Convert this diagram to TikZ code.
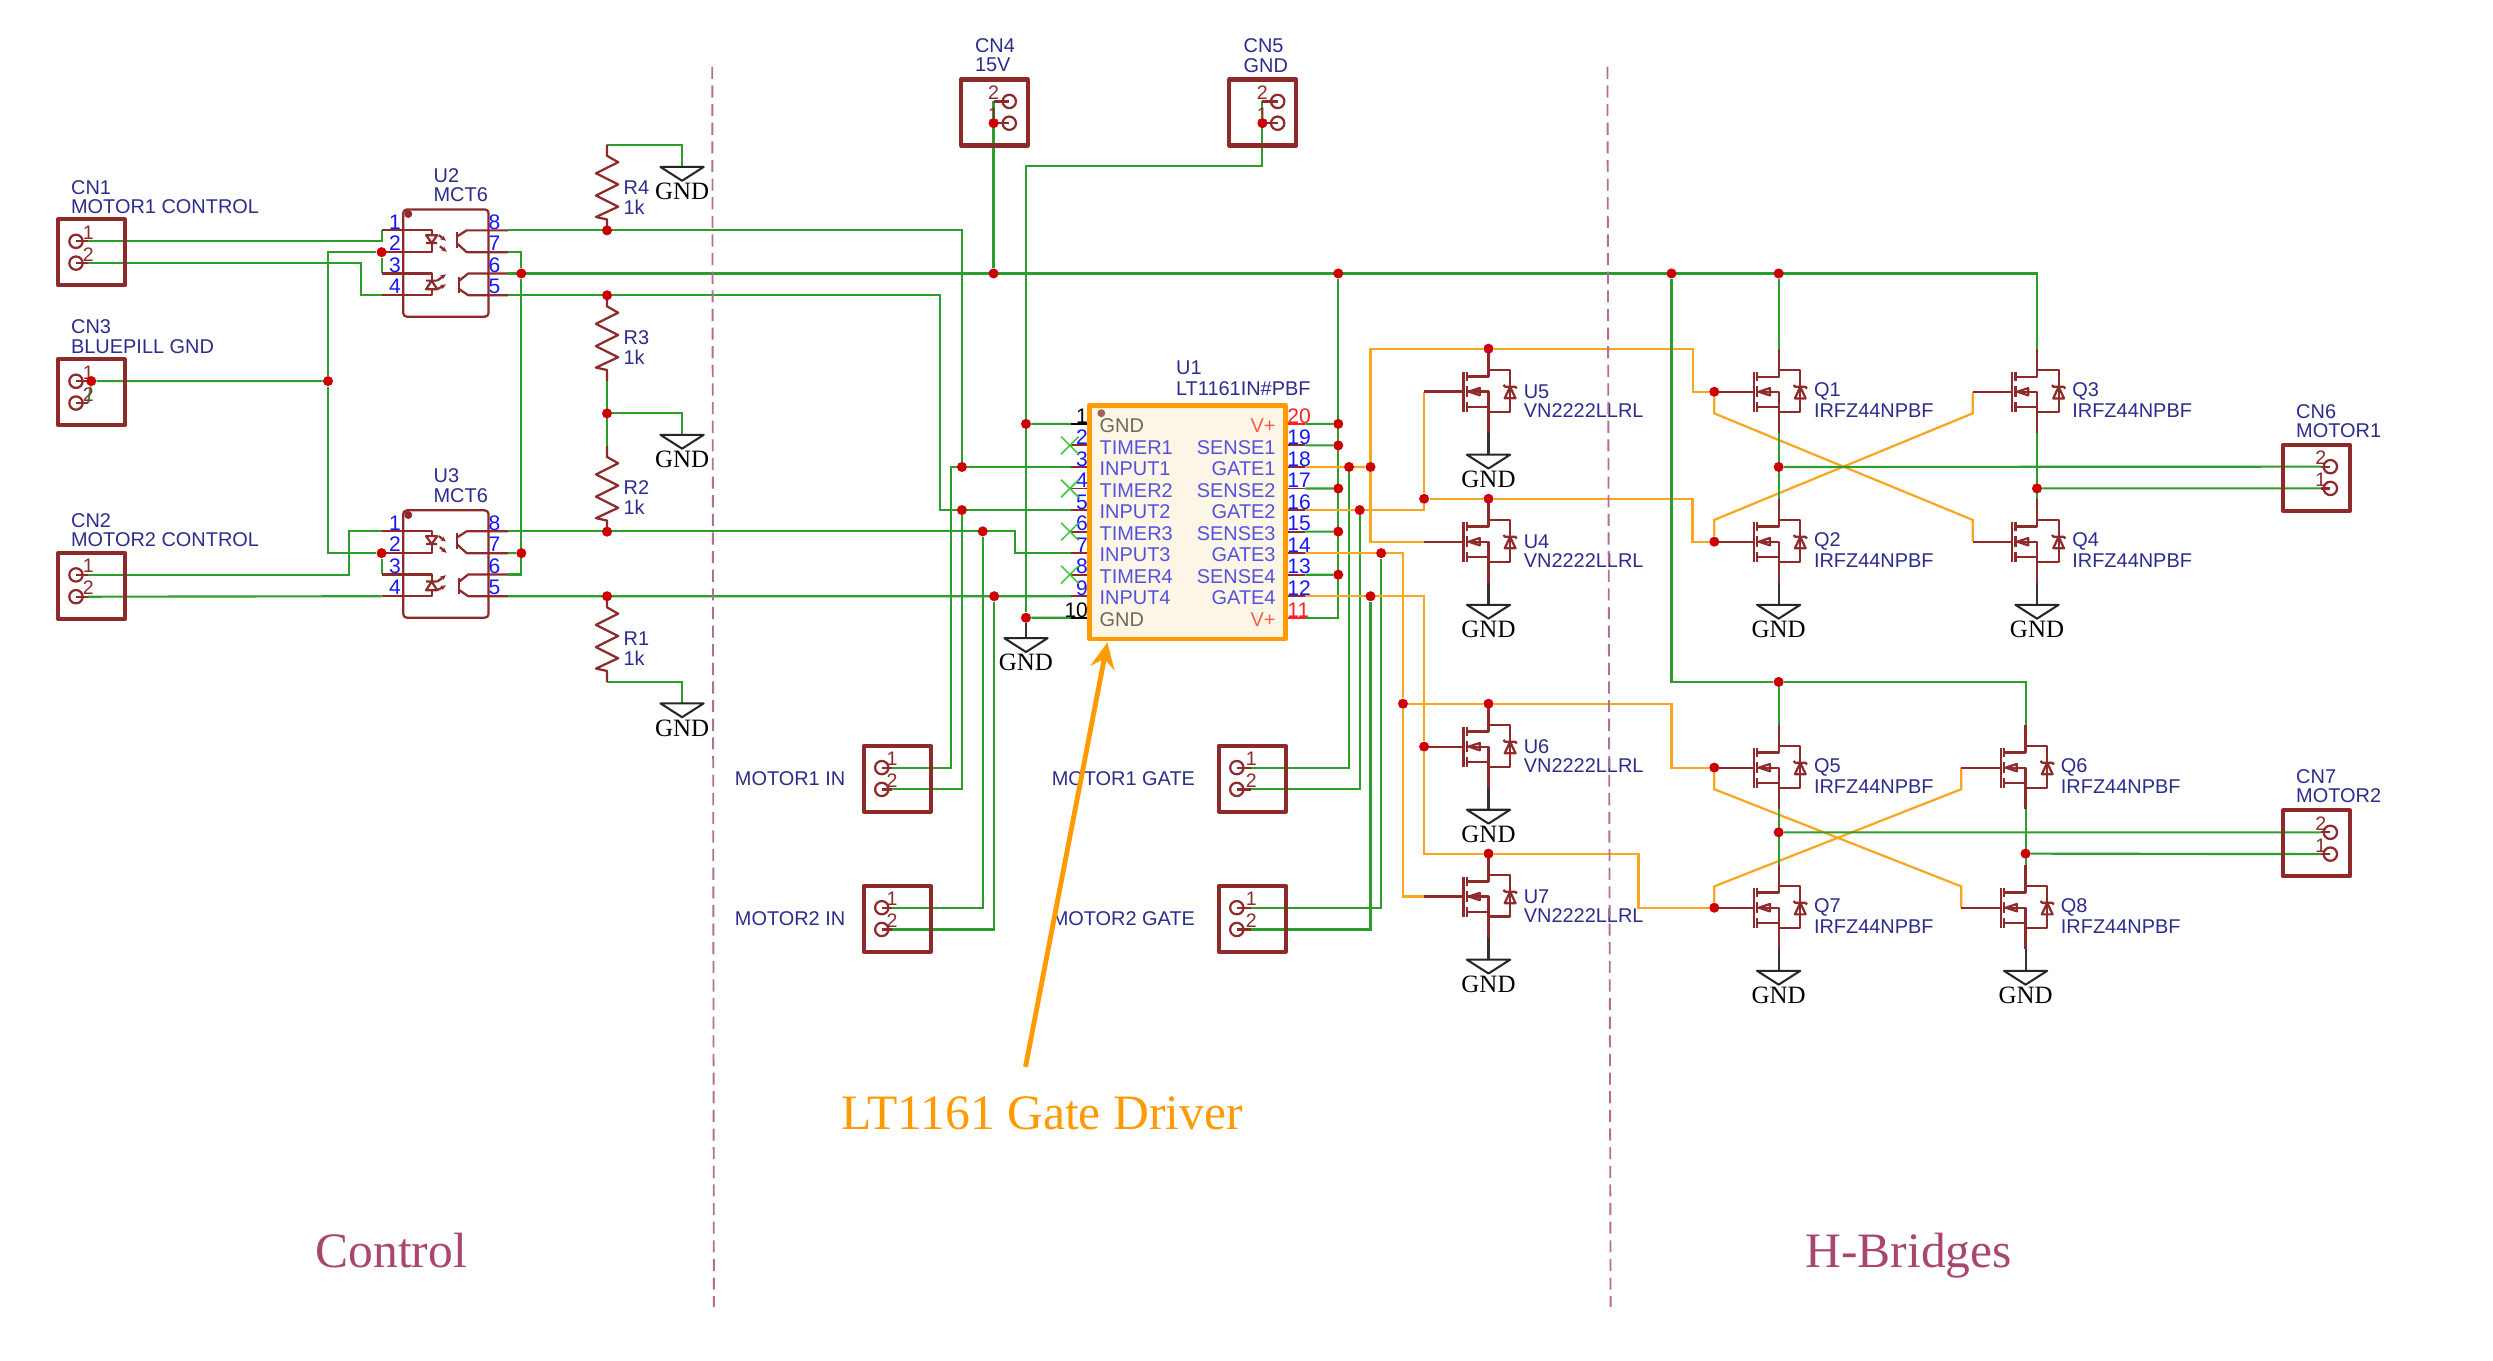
\documentclass[tikz,border=0pt]{standalone}
\usepackage{fontspec}
\setmainfont{Liberation Serif}
\setsansfont{Liberation Sans}
\usetikzlibrary{arrows.meta,backgrounds,calc}
\definecolor{schGreen}{HTML}{2B9E2B}
\definecolor{schGate}{HTML}{FBA620}
\definecolor{schDark}{HTML}{8E2A2A}
\definecolor{schDot}{HTML}{CC0000}
\definecolor{schNavy}{HTML}{2C2C8E}
\definecolor{schBlue}{HTML}{1515FF}
\definecolor{schSep}{HTML}{B86A9A}
\definecolor{schTitle}{HTML}{A8466F}
\definecolor{schDriver}{HTML}{FF9B00}
\definecolor{schCream}{HTML}{FDF6E6}
\definecolor{schSig}{HTML}{5252E0}
\definecolor{schPwr}{HTML}{FF5A4A}
\definecolor{schGnd}{HTML}{6A6A58}
\definecolor{schRed}{HTML}{FF2020}
\definecolor{schCross}{HTML}{45C845}

% ---------- connector: name, x, y, circle dx, wire dx, upper no, lower no ----------
\newcommand{\conn}[7]{%
\begin{scope}[shift={(#2,#3)}]
  \draw[part, line width=2.2pt] (0,0) rectangle (42,41.5);
  \coordinate (#1-a) at (#5,13.8);
  \coordinate (#1-b) at (#5,27.5);
  \draw[part] (#4,13.8) circle (4.2) (#4,27.5) circle (4.2);
  \draw[part] (#1-a) -- (#4,13.8) (#1-b) -- (#4,27.5);
  \node[cpin] (#1-na) at (#5,8.3) {#6};
  \node[cpin] (#1-nb) at (#5,22) {#7};
\end{scope}}
% ---------- MOSFET: name, x, y, ref, value ----------
\newcommand{\mosfet}[5]{%
\begin{scope}[shift={(#2,#3)}]
  \coordinate (#1-g) at (-40.5,0);
  \coordinate (#1-d) at (0,-27);
  \coordinate (#1-s) at (0,26);
  \draw[part] (#1-g) -- (-15.7,0) (-15.7,-12.6) -- (-15.7,12.6);
  \draw[part] (-13.6,-12.6) -- (-13.6,-6.5) (-13.6,-3.5) -- (-13.6,3.5) (-13.6,6.5) -- (-13.6,12.6);
  \draw[part] (#1-d) -- (0,-9.5) -- (-13.6,-9.5);
  \draw[part] (#1-s) -- (0,0) -- (-13.6,0) (0,9.5) -- (-13.6,9.5);
  \draw[part] (0,-13.6) -- (13.6,-13.6) -- (13.6,12.6) -- (0,12.6);
  \draw[part] (-12.4,0) -- (-5.5,-2.3) -- (-5.5,2.3) -- cycle;
  \draw[part] (10.2,4.2) -- (17,4.2) -- (13.6,-3.1) -- cycle;
  \draw[part] (9.4,-4.2) -- (10.4,-3.1) -- (16.8,-3.1) -- (17.8,-2);
  \node[lbl] (#1-ref) at (22,0) {#4};
  \node[lbl] (#1-val) at (22,12) {#5};
\end{scope}}
% ---------- optocoupler: name, y of pin 1 ----------
\newcommand{\opto}[2]{%
\begin{scope}[shift={(0,#2)}]
  \draw[part, rounded corners=2pt] (253.6,-13.2) rectangle (307.3,54.3);
  \fill[schDark] (256.8,-10.3) circle (2.5);
  \foreach \p/\dy in {1/0,2/13.7,3/27.1,4/40.8} {
    \coordinate (#1-l\p) at (240,\dy);
    \node[pinnum] (#1-nl\p) at (248.5,\dy-5.4) {\p};
  }
  \foreach \p/\dy in {8/0,7/13.7,6/27.1,5/40.8} {
    \coordinate (#1-r\p) at (319.5,\dy);
    \node[pinnum] (#1-nr\p) at (311,\dy-5.4) {\p};
  }
  % LEDs
  \draw[part] (#1-l1) -- (271.5,0) -- (271.5,3) (271.5,8) -- (271.5,13.7) -- (#1-l2);
  \draw[part] (268,3) -- (275,3) -- (271.5,8) -- cycle (268,8) -- (275,8);
  \draw[part] (#1-l3) -- (271.5,27.1) -- (271.5,31.6) (271.5,37) -- (271.5,40.8) -- (#1-l4);
  \draw[part] (268,37) -- (275,37) -- (271.5,31.6) -- cycle (268,31.6) -- (275,31.6);
  \draw[part, -{Stealth[length=3pt,width=2.6pt]}] (276,3) -- (280.5,6.5);
  \draw[part, -{Stealth[length=3pt,width=2.6pt]}] (276.7,10) -- (281,13.5);
  \draw[part, -{Stealth[length=3pt,width=2.6pt]}] (275,31.6) -- (280.5,27.6);
  \draw[part, -{Stealth[length=3pt,width=2.6pt]}] (275,37) -- (280.5,34);
  % transistors
  \draw[part] (287.2,0.8) -- (287.2,11) (288.9,29.5) -- (288.9,39.6);
  \draw[part] (287.2,4) -- (293.5,0) -- (#1-r8);
  \draw[part] (287.2,8) -- (293.5,13.7) -- (#1-r7);
  \draw[part] (288.9,31.6) -- (294.5,27.1) -- (#1-r6);
  \draw[part] (288.9,37) -- (294.5,40.8) -- (#1-r5);
\end{scope}}
% ---------- resistor: name, x, y of top lead ----------
\newcommand{\resist}[3]{%
\begin{scope}[shift={(#2,#3)}]
  \coordinate (#1-a) at (0,0);
  \coordinate (#1-b) at (0,54);
  \draw[part] (#1-a) -- (0,7) -- (7,11) -- (-7,18) -- (7,25) -- (-7,32) -- (7,39) -- (-7,45.5) -- (0,47) -- (#1-b);
\end{scope}}
% ---------- ground: name, x, y ----------
\newcommand{\gnd}[3]{%
\begin{scope}[shift={(#2,#3)}]
  \coordinate (#1) at (0,0);
  \draw[gndsym] (#1) -- (-13.6,0) -- (0,8.7) -- (13.6,0) -- cycle;
  \node[gndtxt] (#1-t) at (0,15.5) {GND};
\end{scope}}

\begin{document}
\begin{tikzpicture}[x=0.3mm, y=-0.3mm, line join=round,
    wire/.style={schGreen, line width=1.15pt},
    gatewire/.style={schGate, line width=1.2pt},
    gndwire/.style={black!80, line width=1.1pt},
    part/.style={schDark, line width=1.2pt},
    gndsym/.style={black!85, line width=1.1pt},
    junc/.style={circle, fill=schDot, inner sep=0pt, minimum size=5.4pt},
    lbl/.style={anchor=west, inner sep=0pt, text=schNavy, font=\sffamily\fontsize{10.7pt}{12pt}\selectfont},
    cpin/.style={inner sep=0pt, text=schDark, font=\sffamily\fontsize{10.5pt}{11pt}\selectfont},
    pinnum/.style={inner sep=0pt, text=schBlue, font=\sffamily\fontsize{11.3pt}{12pt}\selectfont},
    gndtxt/.style={inner sep=0pt, text=black, font=\rmfamily\fontsize{13.4pt}{14pt}\selectfont},
    bigtxt/.style={inner sep=0pt, anchor=base, font=\rmfamily\fontsize{26.6pt}{28pt}\selectfont},
    sepline/.style={schSep, line width=1pt, dash pattern=on 6.5pt off 3.5pt},
  ]
\useasboundingbox (0,0) rectangle (1568,856);
% ---------- connectors ----------
\conn{cn1}{36.5}{138}{11.3}{19}{1}{2}
\conn{cn3}{36.5}{226}{11.3}{19}{1}{2}
\conn{cn2}{36.5}{347.8}{11.3}{19}{1}{2}
\conn{cn4}{604.4}{50}{30.4}{20.5}{2}{1}
\conn{cn5}{773.2}{50}{30.4}{20.8}{2}{1}
\conn{in1}{543.4}{469}{11.2}{17.6}{1}{2}
\conn{in2}{543.4}{557.1}{11.2}{17.6}{1}{2}
\conn{mg1}{766.7}{469}{11.2}{20.3}{1}{2}
\conn{mg2}{766.7}{557.1}{11.2}{20.3}{1}{2}
\conn{cn6}{1436}{279.7}{29.7}{23.7}{2}{1}
\conn{cn7}{1436}{509.7}{29.7}{23.7}{2}{1}
% ---------- parts ----------
\opto{u2}{144.9}
\opto{u3}{334.2}
\resist{r4}{381.8}{91}
\resist{r3}{381.8}{185.7}
\resist{r2}{381.8}{280.4}
\resist{r1}{381.8}{375}
\gnd{gr4}{429}{105}
\gnd{gr3}{429}{273.5}
\gnd{gr1}{429}{442.4}
\gnd{gu1}{645.3}{401.4}
\mosfet{u5}{936.2}{246.3}{U5}{VN2222LLRL}
\mosfet{u4}{936.2}{340.7}{U4}{VN2222LLRL}
\mosfet{u6}{936.2}{469.6}{U6}{VN2222LLRL}
\mosfet{u7}{936.2}{563.9}{U7}{VN2222LLRL}
\mosfet{q1}{1118.7}{246.4}{Q1}{IRFZ44NPBF}
\mosfet{q2}{1118.7}{340.7}{Q2}{IRFZ44NPBF}
\mosfet{q3}{1281.2}{246.4}{Q3}{IRFZ44NPBF}
\mosfet{q4}{1281.2}{340.7}{Q4}{IRFZ44NPBF}
\mosfet{q5}{1118.7}{482.8}{Q5}{IRFZ44NPBF}
\mosfet{q7}{1118.7}{570.9}{Q7}{IRFZ44NPBF}
\mosfet{q6}{1274}{482.8}{Q6}{IRFZ44NPBF}
\mosfet{q8}{1274}{570.9}{Q8}{IRFZ44NPBF}
\foreach \m/\x/\y in {u5/936.2/286,u4/936.2/380.4,u6/936.2/509.3,u7/936.2/603.6,q2/1118.7/380.4,q4/1281.2/380.4,q7/1118.7/610.6,q8/1274/610.6}
  \gnd{g\m}{\x}{\y};
% ---------- LT1161 ----------
\node[draw=schDark, fill=schCream, line width=1pt, minimum width=36.6mm, minimum height=44mm, inner sep=0pt] (U1c) at (747.1,328) {};
\foreach \i/\lt/\rt/\cl/\cr/\nl/\nr in {1/GND/V+/schGnd/schPwr/black/schRed,2/TIMER1/SENSE1/schSig/schSig/schBlue/schBlue,3/INPUT1/GATE1/schSig/schSig/schBlue/schBlue,4/TIMER2/SENSE2/schSig/schSig/schBlue/schBlue,5/INPUT2/GATE2/schSig/schSig/schBlue/schBlue,6/TIMER3/SENSE3/schSig/schSig/schBlue/schBlue,7/INPUT3/GATE3/schSig/schSig/schBlue/schBlue,8/TIMER4/SENSE4/schSig/schSig/schBlue/schBlue,9/INPUT4/GATE4/schSig/schSig/schBlue/schBlue,10/GND/V+/schGnd/schPwr/black/schRed} {
  \pgfmathsetmacro\ry{266.6+13.55*(\i-1)}
  \pgfmathtruncatemacro\rn{21-\i}
  \coordinate (U1-\i) at (673.9,\ry);
  \coordinate (U1-\rn) at (821,\ry);
  \ifnum\i=1 \def\stubl{black}\def\stubr{schRed}\else\ifnum\i=10 \def\stubl{black}\def\stubr{schRed}\else\def\stubl{schDark}\def\stubr{schDark}\fi\fi
  \draw[\stubl, line width=1pt] (U1-\i) -- (686,\ry);
  \draw[\stubr, line width=1pt] (U1-\rn) -- (808,\ry);
  \node[lbl, text=\cl] (lt\i) at (691.4,\ry+1.2) {\lt};
  \node[lbl, anchor=east, text=\cr] (rt\i) at (802.5,\ry+1.2) {\rt};
  \node[pinnum, anchor=east, text=\nl] (nl\i) at (684.5,\ry-5) {\i};
  \node[pinnum, anchor=west, text=\nr] (nr\i) at (809.5,\ry-5) {\rn};
}
\foreach \i in {2,4,6,8}
  \draw[schCross, line width=0.9pt] ($(U1-\i)+(-6.5,-5.5)$) -- ++(11,11) ($(U1-\i)+(-6.5,5.5)$) -- ++(11,-11);
\node[draw=schDriver, line width=2.6pt, minimum width=37mm, minimum height=44.1mm, inner sep=0pt] (U1) at (747.1,328.4) {};
\fill[schDark!75] (692.7,259.9) circle (2.5);
% ---------- texts ----------
\foreach \n/\x/\y/\t in {cn1r/44.5/117.8/CN1,cn1v/44.5/129.7/MOTOR1 CONTROL,cn3r/44.5/205.6/CN3,cn3v/44.5/217.8/BLUEPILL GND,cn2r/44.5/327.2/CN2,cn2v/44.5/339.7/MOTOR2 CONTROL,cn4r/613/29/CN4,cn4v/613/41/15V,cn5r/782/29/CN5,cn5v/782/41/GND,u2r/272.5/110.3/U2,u2v/272.5/122.3/MCT6,u3r/272.5/299.4/U3,u3v/272.5/311.8/MCT6,r4r/392/117.8/R4,r4v/392/130.2/1k,r3r/392/212.3/R3,r3v/392/224.8/1k,r2r/392/306.8/R2,r2v/392/319.3/1k,r1r/392/401.9/R1,r1v/392/414.3/1k,in1l/462/489.5/MOTOR1 IN,in2l/462/577.6/MOTOR2 IN,mg1l/661.3/489.5/MOTOR1 GATE,mg2l/661.3/577.6/MOTOR2 GATE,u1r/739.5/231.2/U1,u1v/739.5/244.2/LT1161IN\#PBF,cn6r/1444/259/CN6,cn6v/1444/271.1/MOTOR1,cn7r/1444/488.5/CN7,cn7v/1444/500.6/MOTOR2}
  \node[lbl] (lb-\n) at (\x,\y) {\t};
% ---------- junctions ----------
\foreach \n/\x/\y in {ju2/240/158.6,ju3/240/347.9,jbus/206.3/239.7,jcn3/57.4/239.7,ju2r/327.9/172,ju3r/327.9/347.9,jr4/381.8/144.9,jr3/381.8/185.7,jr23/381.8/260,jr2/381.8/334.4,jr1/381.8/375,jv1/624.9/172,jv2/841.7/172,jv3/1051.3/172,jv4/1118.7/172,jcn4/624.9/77.5,jcn5/794/77.5,ja3/605/293.7,ja5/605/320.8,ja6/618.1/334.2,ja9/625.3/375,jg1/645.3/266.6,jg10/645.3/388.55,j20/841.7/266.6,j19/841.7/280.15,j17/841.7/307.25,j15/841.7/334.35,j13/841.7/361.45,j18g/848.5/293.7,j18o/862/293.7,j16g/855.2/320.8,j14g/868.7/347.9,j12g/862/375,ju5g/895.7/313.7,jd5/936.2/219.3,jd4/936.2/313.7,j882/882.4/442.6,jd6/936.2/442.6,j896/895.7/469.6,jd7/936.2/536.9,j5d/1118.7/428.9,jm1/1118.7/293.7,jm2/1281.2/307.2,jm3/1118.7/523.5,jm4/1274/536.9}
  \node[junc] (\n) at (\x,\y) {};
\foreach \q in {q1,q2,q5,q7}
  \node[junc] (j\q) at (\q-g) {};
% ---------- bends and free ends ----------
\coordinate (xa) at (226.8,175);
\coordinate (xb) at (219.7,348);
\coordinate (xc) at (591.2,250);
\coordinate (xd) at (638.6,340);
\coordinate (xe) at (598,390);
\coordinate (xf) at (645.3,104.4);
\coordinate (xg) at (1065,233);
\coordinate (xh) at (1064.5,327);
\coordinate (xi) at (1051.3,460);
\coordinate (xj) at (1030.5,550);
\coordinate (q1x) at (1078.2,260);
\coordinate (q4x) at (1240.7,327);
\coordinate (q2x) at (1078.2,327);
\coordinate (q3x) at (1240.7,260);
\coordinate (q5x) at (1078.2,496.4);
\coordinate (q8x) at (1233.5,557.5);
\coordinate (q7x) at (1078.2,557.5);
\coordinate (q6x) at (1233.5,496.4);
\coordinate (sa) at (448,42);
\coordinate (sb) at (449,822);
\coordinate (sc) at (1011,42);
\coordinate (sd) at (1013,822);
\coordinate (drvtail) at (645,671);
\coordinate (drvtip) at (696.5,404);
% ---------- wires ----------
\begin{scope}[on background layer]
  \fill[white] (0,0) rectangle (1568,856);
  % control side
  \draw[wire] (cn1-a) -| (u2-l1);
  \draw[wire] (cn1-b) -| (xa) |- (u2-l4);
  \draw[wire] (ju2) -- (u2-l3) (ju3) -- (u3-l3);
  \draw[wire] (jcn3) -- (cn3-a) (jcn3) -- (cn3-b) (jcn3) -- (jbus);
  \draw[wire] (ju2) -| (jbus) (ju3) -| (jbus);
  \draw[wire] (cn2-a) -| (xb) |- (u3-l1);
  \draw[wire] (cn2-b) -- (u3-l4);
  \draw[wire] (u2-r7) -| (ju2r) |- (u3-r6);
  \draw[wire] (u3-r7) -- (ju3r);
  \draw[wire] (r4-a) -| (gr4);
  \draw[wire] (r3-b) -- (r2-a) (jr23) -| (gr3);
  \draw[wire] (r1-b) -| (gr1);
  % to the driver
  \draw[wire] (u2-r6) -| (q3-d);
  \draw[wire] (u2-r8) -| (ja3);
  \draw[wire] (u2-r5) -| (xc) |- (U1-5);
  \draw[wire] (u3-r8) -| (xd) |- (U1-7);
  \draw[wire] (u3-r5) -- (U1-9);
  \draw[wire] (U1-3) -| (xe) |- (in1-a);
  \draw[wire] (ja5) |- (in1-b) (ja6) |- (in2-a) (ja9) |- (in2-b);
  \draw[wire] (cn4-a) -- (jv1);
  \draw[wire] (cn5-a) |- (xf) -- (jg10);
  \draw[wire] (jg1) -- (U1-1) (jg10) -- (U1-10);
  \draw[gndwire] (jg10) -- (gu1);
  \draw[wire] (U1-11) -| (jv2);
  \draw[wire] (U1-20) -- (j20) (U1-19) -- (j19) (U1-17) -- (j17) (U1-15) -- (j15) (U1-13) -- (j13);
  \draw[wire] (j18g) |- (mg1-a) (j16g) |- (mg1-b) (j14g) |- (mg2-a) (j12g) |- (mg2-b);
  % gate drive
  \draw[gatewire] (U1-18) -- (j18o);
  \draw[gatewire] (u4-g) -| (j18o) |- (jd5) -| (xg) |- (jq1);
  \draw[gatewire] (U1-16) -| (ju5g) (u5-g) -- (ju5g);
  \draw[gatewire] (ju5g) -- (jd4) -| (xh) |- (jq2);
  \draw[gatewire] (U1-14) -| (j882) |- (u7-g);
  \draw[gatewire] (j882) -- (jd6) -| (xi) |- (jq5);
  \draw[gatewire] (U1-12) -| (j896) |- (jd7) -| (xj) |- (jq7);
  \draw[gatewire] (jq1) -- (q1x) -- (q4x) -- (q4-g);
  \draw[gatewire] (jq2) -- (q2x) -- (q3x) -- (q3-g);
  \draw[gatewire] (jq5) -- (q5x) -- (q8x) -- (q8-g);
  \draw[gatewire] (jq7) -- (q7x) -- (q6x) -- (q6-g);
  % bridges
  \draw[wire] (jv4) -- (q1-d) (q1-s) -- (q2-d) (q3-s) -- (q4-d);
  \draw[wire] (jv3) |- (j5d) -| (q6-d) (j5d) -- (q5-d);
  \draw[wire] (q5-s) -- (q7-d) (q6-s) -- (q8-d);
  \draw[wire] (jm1) -- (cn6-a) (jm2) -- (cn6-b) (jm3) -- (cn7-a) (jm4) -- (cn7-b);
  \foreach \m in {u4,u5,u6,u7,q2,q4,q7,q8}
    \draw[gndwire] (\m-s) -- (g\m);
\end{scope}
% ---------- annotations ----------
\draw[sepline] (sa) -- (sb);
\draw[sepline] (sc) -- (sd);
\draw[schDriver, line width=2.6pt, -{Stealth[length=14pt,width=13pt,inset=5pt]}] (drvtail) -- (drvtip);
\node[bigtxt, text=schDriver] (drvlabel) at (655.5,710.5) {LT1161 Gate Driver};
\node[bigtxt, text=schTitle] (ctrl) at (246,797.5) {Control};
\node[bigtxt, text=schTitle] (hbr) at (1200.5,797.5) {H-Bridges};
\end{tikzpicture}
\end{document}
